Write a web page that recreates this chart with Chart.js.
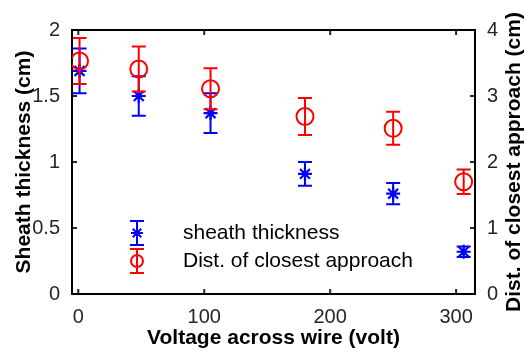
<!DOCTYPE html>
<html>
<head>
<meta charset="utf-8">
<script src="https://cdn.jsdelivr.net/npm/chart.js@4.4.0/dist/chart.umd.min.js"></script>
<style>
  html, body { margin: 0; padding: 0; background: #fff; }
  #wrap { width: 525px; height: 352px; }
</style>
</head>
<body>
<div id="wrap"><canvas id="chart"></canvas></div>
<script>
// wire voltage (volt) and the two measured quantities with their error bars
const voltage = [1, 48, 105, 180, 250, 306];
const sheathThickness = [1.69, 1.50, 1.37, 0.91, 0.76, 0.32];
const sheathError = [0.17, 0.15, 0.15, 0.09, 0.08, 0.04];
const closestApproach = [3.53, 3.41, 3.11, 2.69, 2.51, 1.70];
const approachError = [0.35, 0.34, 0.31, 0.28, 0.25, 0.185];

const xTicks = [0, 100, 200, 300];
const sheathTicks = [0, 0.5, 1, 1.5, 2];
const approachTicks = [0, 1, 2, 3, 4];

const BLUE = '#0000ff';
const RED = '#ff0000';
const AXIS = '#262626';
const FONT = "'Liberation Sans', Arial, Helvetica, sans-serif";

Chart.defaults.font.family = FONT;

const points = (xs, ys, errs) => xs.map((x, i) => ({ x: x, y: ys[i], err: errs[i] }));
const setTicks = (values) => (scale) => { scale.ticks = values.map(v => ({ value: v })); };
const plainLabel = (value) => String(value);

// vertical error bars with caps, drawn under each dataset's markers
const errorBars = {
    id: 'errorBars',
    beforeDatasetDraw(chart, args) {
        const ds = chart.data.datasets[args.index];
        const meta = args.meta;
        const yScale = chart.scales[meta.yAxisID];
        const ctx = chart.ctx;
        const cap = 7;
        ctx.save();
        ctx.strokeStyle = ds.borderColor;
        ctx.lineWidth = 2;
        ds.data.forEach((pt, i) => {
            const x = meta.data[i].x;
            const top = yScale.getPixelForValue(pt.y + pt.err);
            const bot = yScale.getPixelForValue(pt.y - pt.err);
            ctx.beginPath();
            ctx.moveTo(x, top); ctx.lineTo(x, bot);
            ctx.moveTo(x - cap, top); ctx.lineTo(x + cap, top);
            ctx.moveTo(x - cap, bot); ctx.lineTo(x + cap, bot);
            ctx.stroke();
        });
        ctx.restore();
    }
};

// box around the plot with inward tick marks on every side
const axesBox = {
    id: 'axesBox',
    beforeDatasetsDraw(chart) {
        const { ctx, chartArea: a, scales } = chart;
        const len = 5;
        ctx.save();
        ctx.strokeStyle = AXIS;
        ctx.lineWidth = 2;
        ctx.beginPath();
        xTicks.forEach(v => {
            const x = scales.x.getPixelForValue(v);
            ctx.moveTo(x, a.bottom); ctx.lineTo(x, a.bottom - len);
            ctx.moveTo(x, a.top); ctx.lineTo(x, a.top + len);
        });
        sheathTicks.forEach(v => {
            const y = scales.ySheath.getPixelForValue(v);
            ctx.moveTo(a.left, y); ctx.lineTo(a.left + len, y);
        });
        approachTicks.forEach(v => {
            const y = scales.yApproach.getPixelForValue(v);
            ctx.moveTo(a.right, y); ctx.lineTo(a.right - len, y);
        });
        ctx.stroke();
        ctx.strokeStyle = '#000';
        ctx.strokeRect(a.left, a.top, a.right - a.left, a.bottom - a.top);
        ctx.restore();
    }
};

// legend inside the axes plus the right-hand axis title
const legendAndTitle = {
    id: 'legendAndTitle',
    afterDraw(chart) {
        const { ctx, chartArea: a } = chart;
        const ix = a.left + 65;
        const tx = a.left + 111;
        const rows = [a.top + 203, a.top + 231];
        ctx.save();
        ctx.lineWidth = 2;
        chart.data.datasets.forEach((ds, i) => {
            const y = rows[i];
            ctx.strokeStyle = ds.borderColor;
            ctx.beginPath();
            ctx.moveTo(ix, y - 12); ctx.lineTo(ix, y + 12);
            ctx.moveTo(ix - 7, y - 12); ctx.lineTo(ix + 7, y - 12);
            ctx.moveTo(ix - 7, y + 12); ctx.lineTo(ix + 7, y + 12);
            if (ds.pointStyle === 'circle') {
                ctx.moveTo(ix + 6, y);
                ctx.arc(ix, y, 6, 0, Math.PI * 2);
            } else {
                const r = 6;
                for (let k = 0; k < 4; k++) {
                    const t = k * Math.PI / 4;
                    ctx.moveTo(ix - r * Math.cos(t), y - r * Math.sin(t));
                    ctx.lineTo(ix + r * Math.cos(t), y + r * Math.sin(t));
                }
            }
            ctx.stroke();
            ctx.fillStyle = '#000';
            ctx.font = '21px ' + FONT;
            ctx.textAlign = 'left';
            ctx.textBaseline = 'middle';
            ctx.fillText(ds.label, tx, y);
        });

        ctx.translate(514, (a.top + a.bottom) / 2);
        ctx.rotate(-Math.PI / 2);
        ctx.font = 'bold 21px ' + FONT;
        ctx.fillStyle = '#000';
        ctx.textAlign = 'center';
        ctx.textBaseline = 'middle';
        ctx.fillText('Dist. of closest approach (cm)', 0, 0);
        ctx.restore();
    }
};

new Chart(document.getElementById('chart'), {
    type: 'scatter',
    data: {
        datasets: [{
            label: 'sheath thickness',
            data: points(voltage, sheathThickness, sheathError),
            yAxisID: 'ySheath',
            borderColor: BLUE,
            backgroundColor: BLUE,
            pointStyle: 'star',
            pointRadius: 7,
            pointBorderWidth: 2.2,
            order: 1
        }, {
            label: 'Dist. of closest approach',
            data: points(voltage, closestApproach, approachError),
            yAxisID: 'yApproach',
            borderColor: RED,
            backgroundColor: 'rgba(0,0,0,0)',
            pointStyle: 'circle',
            pointRadius: 8.5,
            pointBorderWidth: 2,
            order: 0
        }]
    },
    options: {
        responsive: true,
        maintainAspectRatio: false,
        animation: false,
        layout: { padding: { top: 30, right: 0, left: 0, bottom: 0 } },
        plugins: {
            legend: { display: false },
            tooltip: { enabled: false }
        },
        scales: {
            x: {
                type: 'linear',
                position: 'bottom',
                min: -5,
                max: 315,
                afterBuildTicks: setTicks(xTicks),
                afterFit: (s) => { s.height = 58; },
                grid: { display: false },
                border: { display: false },
                ticks: { color: AXIS, font: { size: 20 }, padding: 3, maxRotation: 0, callback: plainLabel },
                title: {
                    display: true,
                    text: 'Voltage across wire (volt)',
                    color: '#000',
                    font: { size: 21, weight: 'bold' },
                    padding: { top: 0, bottom: 1 }
                }
            },
            ySheath: {
                type: 'linear',
                position: 'left',
                min: 0,
                max: 2,
                afterBuildTicks: setTicks(sheathTicks),
                afterFit: (s) => { s.width = 72; },
                grid: { display: false },
                border: { display: false },
                ticks: { color: AXIS, font: { size: 20 }, padding: 4, callback: plainLabel },
                title: {
                    display: true,
                    text: 'Sheath thickness (cm)',
                    color: '#000',
                    font: { size: 21, weight: 'bold' },
                    padding: { top: 12, bottom: 0 }
                }
            },
            yApproach: {
                type: 'linear',
                position: 'right',
                min: 0,
                max: 4,
                afterBuildTicks: setTicks(approachTicks),
                afterFit: (s) => { s.width = 50; },
                grid: { display: false },
                border: { display: false },
                ticks: { color: AXIS, font: { size: 20 }, padding: 4, callback: plainLabel }
            }
        }
    },
    plugins: [errorBars, axesBox, legendAndTitle]
});
</script>
</body>
</html>
